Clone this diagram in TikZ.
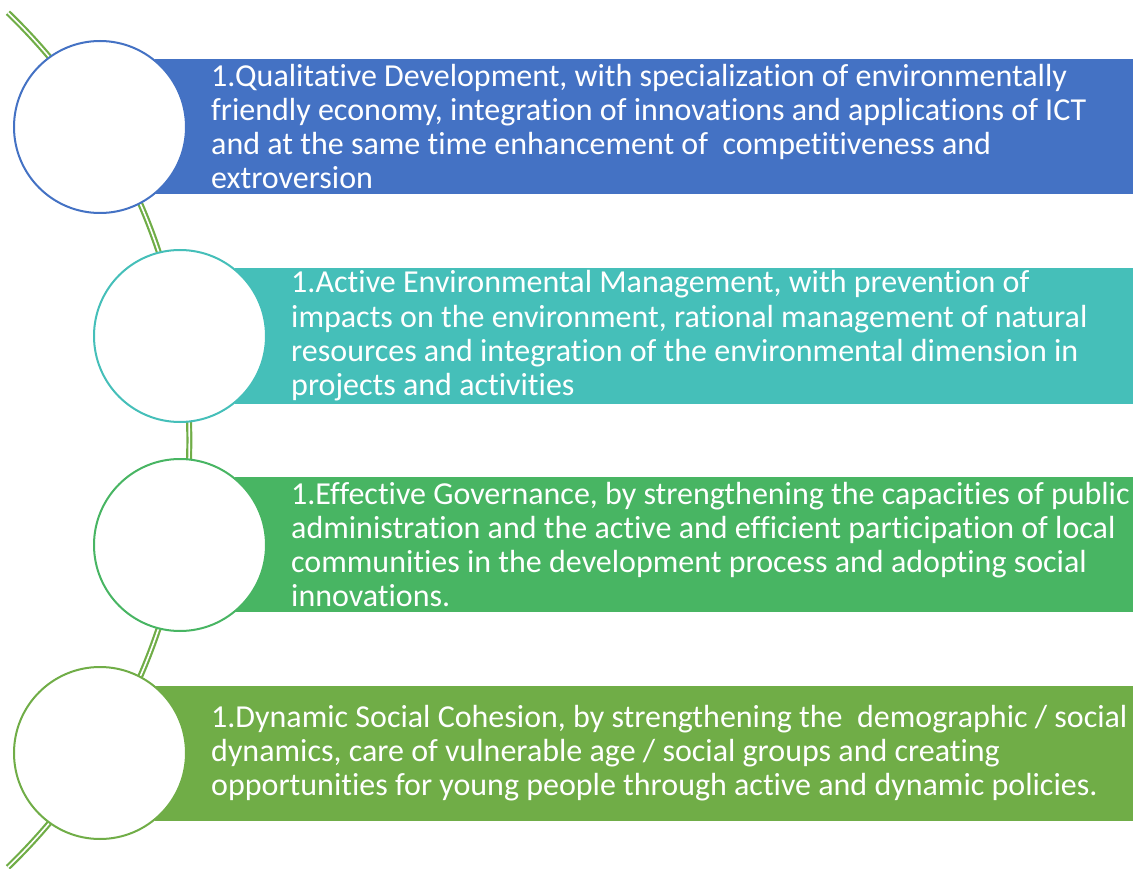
\documentclass[tikz,border=0pt]{standalone}
\usepackage{fontspec}
\setmainfont{Carlito}[Ligatures=NoCommon]
\usetikzlibrary{positioning}
\definecolor{barblue}{HTML}{4472C4}
\definecolor{barteal}{HTML}{45BFB9}
\definecolor{bargreen}{HTML}{48B563}
\definecolor{barolive}{HTML}{70AD47}
\tikzset{
	bar/.style={rectangle, inner sep=0, minimum width=978, minimum height=135, anchor=west},
	txt/.style={text=white, align=left, inner sep=0, anchor=west, font=\fontsize{32}{34.3}\selectfont},
	disc/.style={circle, draw, fill=white, line width=2pt, minimum size=172, inner sep=0}
}

\begin{document}
\begin{tikzpicture}[x=1pt, y=1pt]
			%%%%% START %%%%%
			\useasboundingbox (0, 0) rectangle (1133, -869);
			
			% bars
			\node[bar, fill=barblue] (b1) at (155, -126.5) {};
			\node[bar, fill=barteal] (b2) at (235, -336) {};
			\node[bar, fill=bargreen] (b3) at (235, -544.5) {};
			\node[bar, fill=barolive] (b4) at (155, -753) {};
			
			% the double arc behind the circles
			\coordinate (arcc) at (-404.7, -440);
			\draw[barolive, line width=2.2pt, double=white, double distance=1.6pt] ([shift={(46:594)}]arcc) arc (46:-46:594);
			
			% circles
			\node[disc, draw=barblue] (c1) at (100, -127) {};
			\node[disc, draw=barteal] (c2) at (180, -336) {};
			\node[disc, draw=bargreen] (c3) at (180, -545) {};
			\node[disc, draw=barolive] (c4) at (100, -753) {};
			
			% texts
			\node[txt] (t1) at ([xshift=56]b1.west) {1.Qualitative Development, with specialization of environmentally\\friendly economy, integration of innovations and applications of ICT\\and at the same time enhancement of \ competitiveness and\\extroversion};
			\node[txt] (t2) at ([xshift=56]b2.west) {1.Active Environmental Management, with prevention of\\impacts on the environment, rational management of natural\\resources and integration of the environmental dimension in\\projects and activities};
			\node[txt] (t3) at ([xshift=56]b3.west) {1.Effective Governance, by strengthening the capacities of public\\administration and the active and efficient participation of local\\communities in the development process and adopting social\\innovations.};
			\node[txt] (t4) at ([xshift=56]b4.west) {1.Dynamic Social Cohesion, by strengthening the \ demographic / social\\dynamics, care of vulnerable age / social groups and creating\\opportunities for young people through active and dynamic policies.};
			
			%%%%% END %%%%%
\end{tikzpicture}
\end{document}
